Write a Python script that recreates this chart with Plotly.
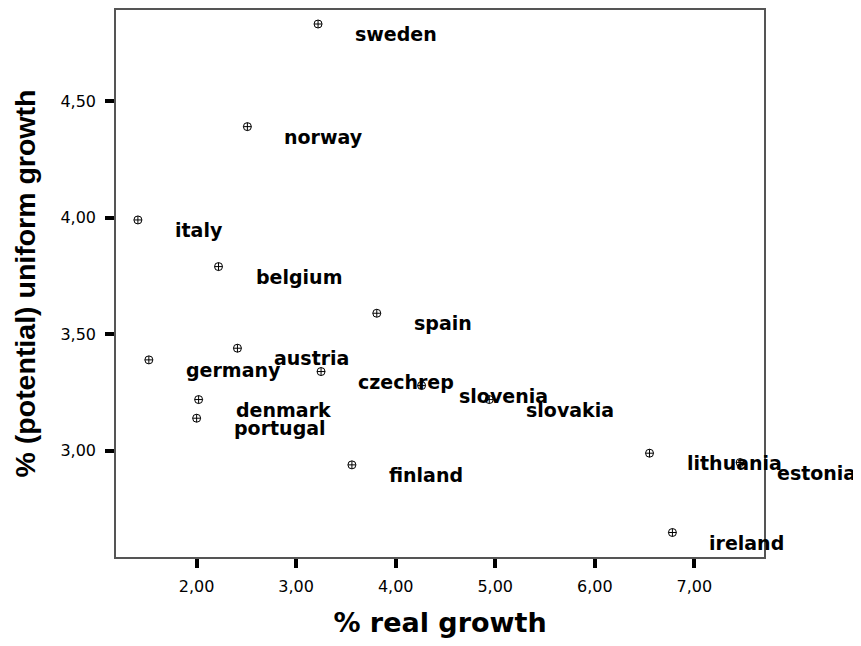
import plotly.graph_objects as go

countries = ["sweden", "norway", "italy", "belgium", "spain", "germany", "austria",
             "czechrep", "slovenia", "slovakia", "denmark", "portugal", "finland",
             "lithuania", "estonia", "ireland"]
real_growth = [3.22, 2.51, 1.41, 2.22, 3.81, 1.52, 2.41,
               3.25, 4.26, 4.94, 2.02, 2.00, 3.56,
               6.55, 7.46, 6.78]
uniform_growth = [4.83, 4.39, 3.99, 3.79, 3.59, 3.39, 3.44,
                  3.34, 3.28, 3.22, 3.22, 3.14, 2.94,
                  2.99, 2.95, 2.65]

x_tickvals = [2, 3, 4, 5, 6, 7]
x_ticktext = ["2,00", "3,00", "4,00", "5,00", "6,00", "7,00"]
y_tickvals = [3.0, 3.5, 4.0, 4.5]
y_ticktext = ["3,00", "3,50", "4,00", "4,50"]

fig = go.Figure()
fig.add_trace(go.Scatter(
    x=real_growth, y=uniform_growth, mode="markers",
    marker=dict(symbol="circle-cross-open", size=8, color="black",
                line=dict(color="black", width=1)),
    showlegend=False, hoverinfo="skip", cliponaxis=False,
))

for name, xv, yv in zip(countries, real_growth, uniform_growth):
    fig.add_annotation(
        x=xv, y=yv, text=name, showarrow=False,
        xanchor="left", yanchor="middle", xshift=35, yshift=-10,
        font=dict(family="DejaVu Sans", size=19, color="black", weight="bold"),
    )

axis_common = dict(
    showgrid=False, zeroline=False, showline=True, linecolor="#555555",
    linewidth=1.5, mirror=True, ticks="outside", tickcolor="black",
    tickwidth=4, ticklen=9, automargin=False,
    tickfont=dict(family="DejaVu Sans", size=16, color="black"),
)

fig.update_layout(
    width=853, height=630,
    margin=dict(l=108, r=97, t=2, b=81),
    paper_bgcolor="white", plot_bgcolor="white",
    xaxis=dict(range=[1.19, 7.70], tickvals=x_tickvals, ticktext=x_ticktext,
               ticklabelstandoff=5,
               title=dict(text="% real growth", standoff=23,
                          font=dict(family="DejaVu Sans", size=27, color="black", weight="bold")),
               **axis_common),
    yaxis=dict(range=[2.545, 4.89], tickvals=y_tickvals, ticktext=y_ticktext,
               ticklabelstandoff=6,
               title=dict(text="% (potential) uniform growth", standoff=16,
                          font=dict(family="Liberation Sans", size=28.5, color="black", weight="bold")),
               **axis_common),
)

fig.write_html("out.html")
